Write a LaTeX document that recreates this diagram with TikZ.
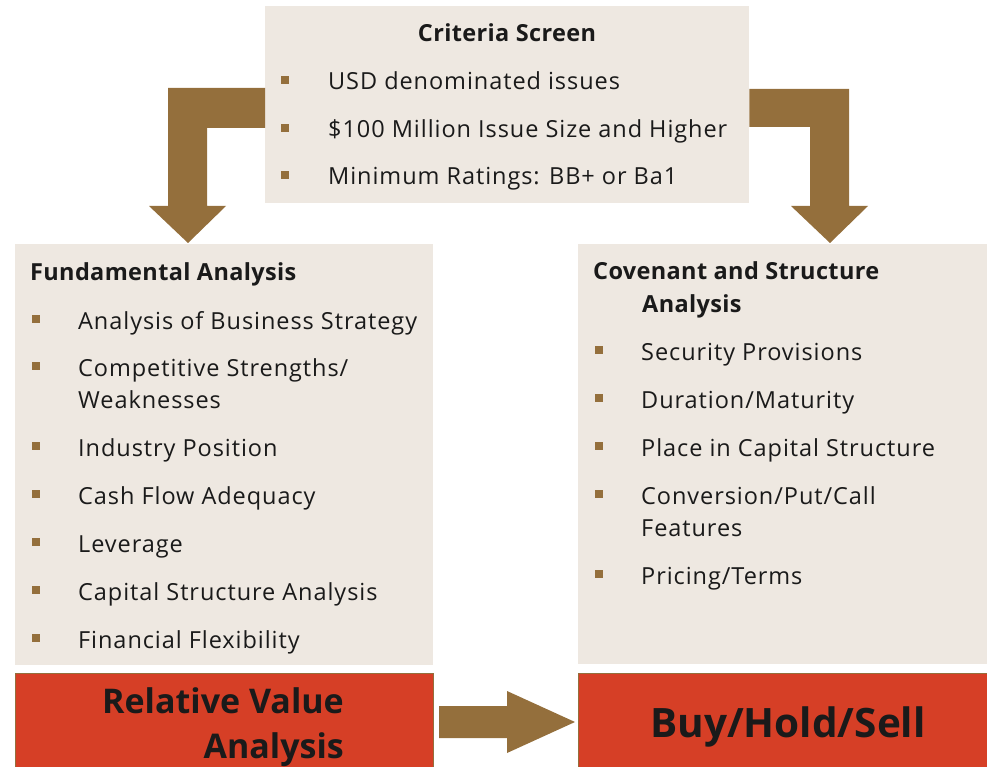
\documentclass[tikz,border=0pt]{standalone}
\usepackage{fontspec}
\setmainfont{Open Sans}
\newfontfamily\itemfont{Open Sans}[LetterSpace=4]
\newfontfamily\titlefont{Open Sans}[LetterSpace=1.5]
\definecolor{panelbg}{HTML}{EEE8E1}
\definecolor{arrowbrown}{HTML}{946F3C}
\definecolor{redbox}{HTML}{D63F26}
\definecolor{ink}{HTML}{1A1A1A}
\tikzset{
  panel/.style={fill=panelbg, draw=none, anchor=north west, inner sep=0pt},
  redpanel/.style={fill=redbox, draw=arrowbrown, line width=1pt, anchor=north west, inner sep=0pt},
  bul/.style={fill=arrowbrown, draw=none, minimum size=8pt, inner sep=0pt},
  item/.style={anchor=base west, inner sep=0pt, text=ink, font=\itemfont\fontsize{23.5}{32}\selectfont},
  ttl/.style={anchor=base west, inner sep=0pt, text=ink, font=\titlefont\fontsize{23.5}{32}\selectfont\bfseries},
  big/.style={inner sep=0pt, text=ink, font=\fontsize{34}{45}\selectfont\bfseries},
  fatarrow/.style={fill=arrowbrown, draw=none}
}
\begin{document}
\begin{tikzpicture}[x=1pt,y=-1pt]
\useasboundingbox (0,0) rectangle (987,767);
% panels
\node[panel, minimum width=484pt, minimum height=197pt] (top) at (265,6) {};
\node[panel, minimum width=418pt, minimum height=421pt] (fund) at (15,244) {};
\node[panel, minimum width=409pt, minimum height=420pt] (cov) at (578,244) {};
\node[redpanel, minimum width=418pt, minimum height=100pt] (rva) at (15,673) {};
\node[redpanel, minimum width=409pt, minimum height=100pt] (bhs) at (578,673) {};
% fat arrows
\fill[fatarrow] (top.west |- 0,88) -- (168,88) -- (168,206) -- (149,206) -- (188,243)
  -- (226,206) -- (207,206) -- (207,128) -- (top.west |- 0,128) -- cycle;
\fill[fatarrow] (top.east |- 0,89) -- (849,89) -- (849,206) -- (868,206) -- (830,243)
  -- (791,206) -- (810,206) -- (810,127) -- (top.east |- 0,127) -- cycle;
\fill[fatarrow] (439,706) -- (507,706) -- (507,691) -- (575,722) -- (507,753)
  -- (507,738) -- (439,738) -- cycle;
% top panel text
\node[ttl, anchor=base] (cst) at (507,42) {Criteria Screen};
\node[bul] (b1) at (285,80) {};
\node[item] (t1) at (328,90) {USD denominated issues};
\node[bul] (b2) at (285,128) {};
\node[item] (t2) at (328,138) {\$100 Million Issue Size and Higher};
\node[bul] (b3) at (285,175) {};
\node[item] (t3) at (328,185) {Minimum Ratings: BB+ or Ba1};
% fundamental analysis
\node[ttl] (fat) at (30,280) {Fundamental Analysis};
\node[bul] (fb1) at (36,319) {};
\node[item] (f1) at (78,329) {Analysis of Business Strategy};
\node[bul] (fb2) at (36,366) {};
\node[item] (f2a) at (78,376) {Competitive Strengths/};
\node[item] (f2b) at (78,408) {Weaknesses};
\node[bul] (fb3) at (36,446) {};
\node[item] (f3) at (78,456) {Industry Position};
\node[bul] (fb4) at (36,494) {};
\node[item] (f4) at (78,504) {Cash Flow Adequacy};
\node[bul] (fb5) at (36,542) {};
\node[item] (f5) at (78,552) {Leverage};
\node[bul] (fb6) at (36,590) {};
\node[item] (f6) at (78,600) {Capital Structure Analysis};
\node[bul] (fb7) at (36,638) {};
\node[item] (f7) at (78,648) {Financial Flexibility};
% covenant analysis
\node[ttl] (cta) at (593,279) {Covenant and Structure};
\node[ttl] (ctb) at (642,312) {Analysis};
\node[bul] (cb1) at (599,350) {};
\node[item] (c1) at (641,360) {Security Provisions};
\node[bul] (cb2) at (599,398) {};
\node[item] (c2) at (641,408) {Duration/Maturity};
\node[bul] (cb3) at (599,446) {};
\node[item] (c3) at (641,456) {Place in Capital Structure};
\node[bul] (cb4) at (599,494) {};
\node[item] (c4a) at (641,504) {Conversion/Put/Call};
\node[item] (c4b) at (641,536) {Features};
\node[bul] (cb5) at (599,574) {};
\node[item] (c5) at (641,584) {Pricing/Terms};
% bottom labels
\node[big, anchor=base east] (rv1) at (344,713) {Relative Value};
\node[big, anchor=base east] (rv2) at (344,758) {Analysis};
\node[big, anchor=base, font=\fontsize{40.5}{50}\selectfont\bfseries] (bhst) at (788,737) {Buy/Hold/Sell};
\end{tikzpicture}
\end{document}
